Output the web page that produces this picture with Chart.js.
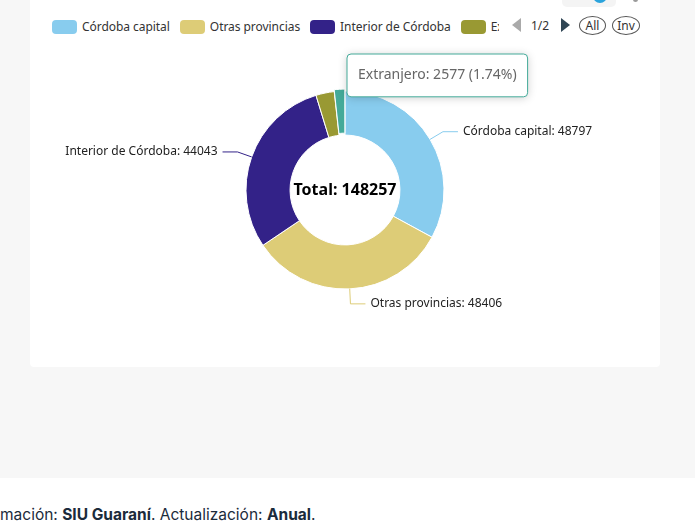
<!DOCTYPE html>
<html lang="es">
<head>
<meta charset="utf-8">
<title>Estudiantes por procedencia</title>
<script src="https://cdn.jsdelivr.net/npm/chart.js@4.4.1/dist/chart.umd.min.js"></script>
<style>
  html, body { margin: 0; padding: 0; }
  body {
    width: 695px; height: 523px; overflow: hidden; position: relative;
    background: #f7f7f7; font-family: 'Noto Sans', sans-serif;
  }
  .card {
    position: absolute; left: 30px; top: -20px; width: 630px; height: 387px;
    background: #fff; border-radius: 4px;
  }
  .toggle {
    position: absolute; left: 562px; top: -14px; width: 54px; height: 21px;
    background: #f4f4f4; border-radius: 5px; overflow: hidden;
  }
  .toggle .knob {
    position: absolute; left: 31px; top: 3px; width: 14px; height: 14px;
    border-radius: 50%; background: #2aa3dc;
  }
  .dot {
    position: absolute; left: 633px; top: -3px; width: 5px; height: 5px;
    border-radius: 50%; background: #9a9a9a;
  }
  #legend {
    position: absolute; left: 52px; top: 18px; width: 447px; height: 16px;
    overflow: hidden; white-space: nowrap; font-size: 12px; color: #333; letter-spacing: -0.05px;
  }
  #legend .item { display: inline-block; margin-right: 10px; height: 16px; line-height: 15px; }
  #legend .sw {
    display: inline-block; width: 25px; height: 14px; border-radius: 4px;
    vertical-align: top; margin-right: 5px; margin-top: 0.5px;
  }
  .pager { position: absolute; top: 17px; height: 17px; font-size: 12px; color: #333; line-height: 17px; }
  .tri { position: absolute; top: 18px; width: 0; height: 0; border-top: 7.5px solid transparent; border-bottom: 7.5px solid transparent; }
  .tri.prev { left: 512px; border-right: 9px solid #aaa; }
  .tri.next { left: 561px; border-left: 9px solid #2f4554; }
  .pill {
    position: absolute; top: 16px; height: 17px; border: 1px solid #555; border-radius: 50%;
    font-size: 12px; color: #333; line-height: 17px; text-align: center;
  }
  #chartBox { position: absolute; left: 30px; top: 40px; width: 630px; height: 300px; }
  .footer {
    position: absolute; left: 0; top: 478px; width: 695px; height: 45px; background: #fff;
  }
  .footer p {
    position: absolute; top: 27px; margin: 0; white-space: nowrap;
    font-family: Inter, sans-serif; font-size: 15.5px; color: #1b2b3b;
  }
</style>
</head>
<body>
<div class="card"></div>
<div class="toggle"><div class="knob"></div></div>
<div class="dot"></div>
<div id="legend"></div>
<div class="tri prev"></div>
<div class="pager" style="left:531px">1/2</div>
<div class="tri next"></div>
<div class="pill" style="left:579px;width:25px">All</div>
<div class="pill" style="left:612px;width:26px">Inv</div>
<div id="chartBox"><canvas id="chart"></canvas></div>
<div class="footer"><p id="fuente"><span id="pre">Fuente de infor</span>mación: <b>SIU Guaraní</b>. Actualización: <b>Anual</b>.</p></div>

<script>
const categories = ['Córdoba capital', 'Otras provincias', 'Interior de Córdoba', 'Exterior', 'Extranjero'];
const values = [48797, 48406, 44043, 4434, 2577];
const colors = ['#88CCEE', '#DDCC77', '#332288', '#999933', '#44AA99'];
const highlighted = 4;
const labelMinShare = 0.05;

const total = values.reduce((a, b) => a + b, 0);

// legend (scroll legend, page 1 of 2)
const legendDiv = document.getElementById('legend');
categories.forEach((name, i) => {
  const item = document.createElement('span');
  item.className = 'item';
  item.innerHTML = '<span class="sw" style="background:' + colors[i] + '"></span>' + name;
  legendDiv.appendChild(item);
});

// footer text is cut at the left edge
const pre = document.getElementById('pre');
document.getElementById('fuente').style.left = (-pre.getBoundingClientRect().width) + 'px';

Chart.defaults.font.family = "'Noto Sans', sans-serif";

Chart.Tooltip.positioners.fixedTop = function(items) {
  if (!items.length) return false;
  const arc = items[0].element;
  return { x: arc.x + 6, y: arc.y - arc.outerRadius - 37, xAlign: 'left', yAlign: 'top' };
};

const sliceLabels = {
  id: 'sliceLabels',
  afterDatasetsDraw(chart) {
    const ctx = chart.ctx;
    const meta = chart.getDatasetMeta(0);
    ctx.save();
    ctx.font = '12px "Noto Sans", sans-serif';
    ctx.textBaseline = 'middle';
    meta.data.forEach((arc, i) => {
      if (values[i] / total < labelMinShare) return;
      const mid = (arc.startAngle + arc.endAngle) / 2;
      const r = arc.outerRadius;
      const x1 = arc.x + Math.cos(mid) * r, y1 = arc.y + Math.sin(mid) * r;
      const x2 = arc.x + Math.cos(mid) * (r + 15), y2 = arc.y + Math.sin(mid) * (r + 15);
      const dir = Math.cos(mid) >= 0 ? 1 : -1;
      const x3 = x2 + dir * 15;
      ctx.strokeStyle = colors[i];
      ctx.lineWidth = 1;
      ctx.beginPath();
      ctx.moveTo(x1, y1); ctx.lineTo(x2, y2); ctx.lineTo(x3, y2);
      ctx.stroke();
      ctx.fillStyle = '#222';
      ctx.textAlign = dir > 0 ? 'left' : 'right';
      ctx.fillText(categories[i] + ': ' + values[i], x3 + dir * 5, y2);
    });
    // total in the hole
    const a = meta.data[0];
    ctx.font = 'bold 16px "Noto Sans", sans-serif';
    ctx.fillStyle = '#000';
    ctx.textAlign = 'center';
    ctx.fillText('Total: ' + total, a.x, a.y);
    ctx.restore();
  },
  beforeTooltipDraw(chart, args) {
    const t = args.tooltip;
    const ctx = chart.ctx;
    ctx.save();
    ctx.shadowColor = 'rgba(0,0,0,0.2)';
    ctx.shadowBlur = 10;
    ctx.shadowOffsetY = 1;
    ctx.fillStyle = '#fff';
    ctx.beginPath();
    ctx.roundRect(t.x, t.y, t.width, t.height, 4);
    ctx.fill();
    ctx.restore();
  }
};

const chart = new Chart(document.getElementById('chart'), {
  type: 'doughnut',
  data: {
    labels: categories,
    datasets: [{
      data: values,
      backgroundColor: colors,
      hoverBackgroundColor: colors,
      borderColor: '#fff',
      hoverBorderColor: '#fff',
      borderWidth: 1,
      hoverOffset: 4
    }]
  },
  options: {
    responsive: true,
    maintainAspectRatio: false,
    animation: false,
    events: [],
    radius: 99,
    cutout: '55.5%',
    layout: { padding: 0 },
    plugins: {
      legend: { display: false },
      tooltip: {
        position: 'fixedTop',
        backgroundColor: '#fff',
        borderColor: ctx => {
          const p = ctx.tooltip.dataPoints;
          return p && p.length ? colors[p[0].dataIndex] : '#ccc';
        },
        borderWidth: 1,
        cornerRadius: 4,
        caretSize: 0,
        caretPadding: 0,
        displayColors: false,
        bodyColor: '#666',
        bodyFont: { size: 14, family: "'Noto Sans', sans-serif" },
        padding: { left: 11, right: 11, top: 13, bottom: 13 },
        callbacks: {
          title: () => '',
          label: c => c.label + ': ' + c.raw + ' (' + (c.raw / total * 100).toFixed(2) + '%)'
        }
      }
    }
  },
  plugins: [sliceLabels]
});

const act = [{ datasetIndex: 0, index: highlighted }];
chart.setActiveElements(act);
chart.tooltip.setActiveElements(act, { x: 0, y: 0 });
chart.update('none');
</script>
</body>
</html>
